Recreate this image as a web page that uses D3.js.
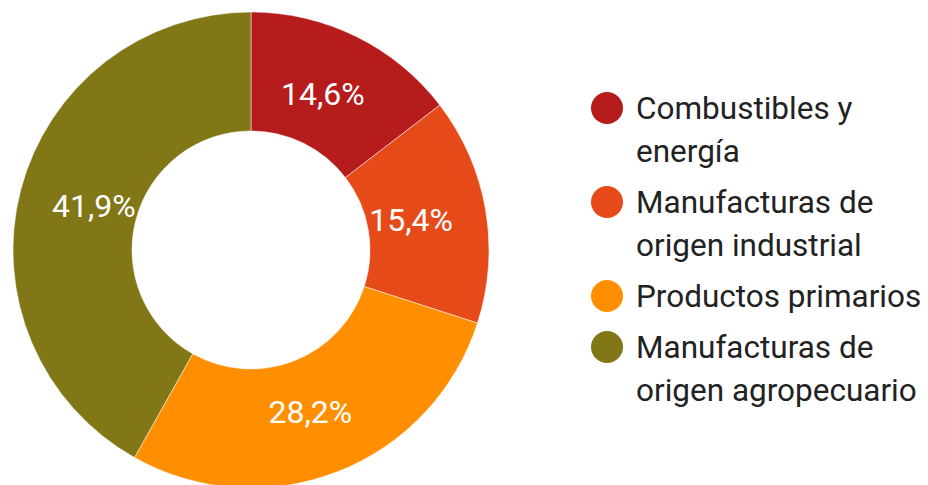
<!DOCTYPE html>
<html><head><meta charset="utf-8">
<script src="https://cdn.jsdelivr.net/npm/d3@7"></script>
<style>html,body{margin:0;padding:0;background:#fff;}svg{display:block;}</style>
</head><body>
<svg id="chart" width="928" height="485"></svg>
<script>
const categories = ["Combustibles y energía", "Manufacturas de origen industrial", "Productos primarios", "Manufacturas de origen agropecuario"];
const values = [14.6, 15.4, 28.2, 41.9];
const valueLabels = ["14,6%", "15,4%", "28,2%", "41,9%"];
const colors = ["#B71C1C", "#E64A19", "#FF8F00", "#827717"];

const svg = d3.select("#chart");
const cx = 251, cy = 250, R = 238, r0 = 119;
const font = "Roboto, 'Noto Sans', sans-serif";

const color = d3.scaleOrdinal().domain(categories).range(colors);
const data = categories.map((c, i) => ({cat: c, value: values[i], label: valueLabels[i]}));
const pie = d3.pie().sort(null).value(d => d.value);
const arc = d3.arc().innerRadius(r0).outerRadius(R);
const arcs = pie(data);

const g = svg.append("g").attr("transform", `translate(${cx},${cy})`);
g.selectAll("path").data(arcs).join("path")
  .attr("d", arc)
  .attr("fill", d => color(d.data.cat))
  .attr("stroke", "#fff").attr("stroke-width", 0.5);

g.selectAll("text").data(arcs).join("text")
  .each(function(d) {
    const [x, y] = arc.centroid(d);
    const a = (d.startAngle + d.endAngle) / 2;
    d3.select(this)
      .attr("x", x - Math.sin(a) * 16)
      .attr("y", y + Math.cos(a) * 5);
  })
  .attr("text-anchor", "middle")
  .attr("dominant-baseline", "central")
  .attr("fill", "#fff")
  .style("font-family", font)
  .style("font-size", "32px")
  .text(d => d.data.label);

// legend
const lx = 607, textX = 636, lineH = 43, itemGap = 8, maxW = 295;
let baseY = 119;
const leg = svg.append("g");
data.forEach((d, i) => {
  const t = leg.append("text")
    .attr("x", textX).attr("y", baseY)
    .attr("fill", "#222")
    .style("font-family", font)
    .style("font-size", "31.5px");
  const words = d.cat.split(" ");
  let line = [], lines = [];
  let ts = t.append("tspan").attr("x", textX).attr("y", baseY);
  words.forEach(w => {
    line.push(w);
    ts.text(line.join(" "));
    if (ts.node().getComputedTextLength() > maxW && line.length > 1) {
      line.pop();
      ts.text(line.join(" "));
      lines.push(line.join(" "));
      line = [w];
      ts = t.append("tspan").attr("x", textX).attr("y", baseY + lines.length * lineH).text(w);
    }
  });
  lines.push(line.join(" "));
  leg.append("circle").attr("cx", lx).attr("cy", baseY - 11).attr("r", 16).attr("fill", color(d.cat));
  baseY += lines.length * lineH + itemGap;
});
</script>
</body></html>
